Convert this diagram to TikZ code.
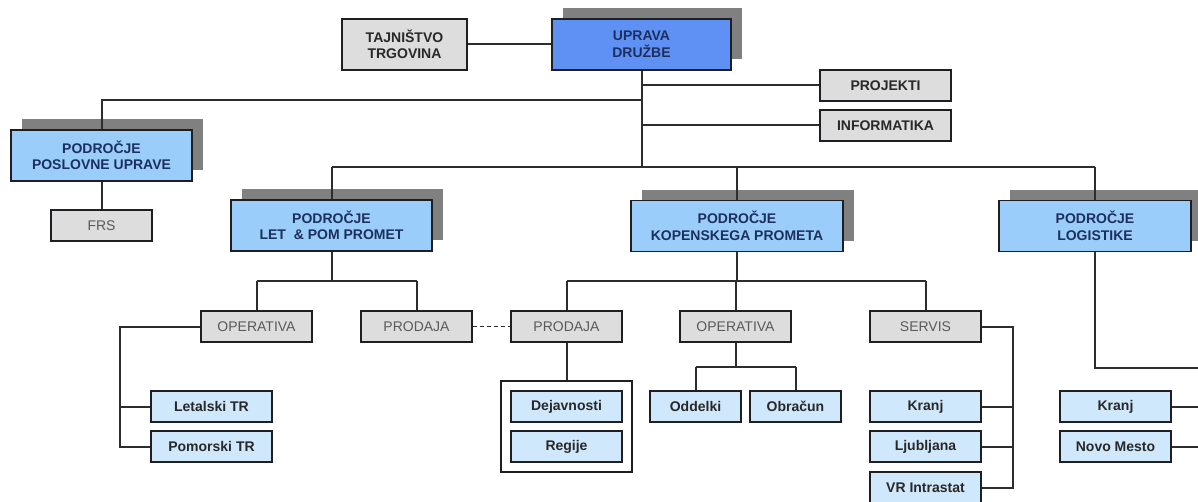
\documentclass[tikz,border=0pt]{standalone}
\usepackage{fontspec}
\setmainfont{Liberation Sans}
\usetikzlibrary{shadows}

\definecolor{lineclr}{RGB}{45,45,45}
\definecolor{edgeclr}{RGB}{30,30,35}
\definecolor{topblue}{RGB}{95,145,245}
\definecolor{areablue}{RGB}{155,205,250}
\definecolor{unitblue}{RGB}{208,232,252}
\definecolor{boxgray}{RGB}{221,221,221}
\definecolor{shadowgray}{RGB}{128,128,128}
\definecolor{navy}{RGB}{28,48,95}
\definecolor{textgray}{RGB}{90,90,90}
\definecolor{textdark}{RGB}{40,40,40}

\tikzset{
  box/.style={draw=edgeclr, line width=1.8pt, inner sep=0pt, align=center,
    minimum height=31pt, font=\fontsize{14}{16.5}\selectfont},
  shadowed/.style={drop shadow={shadow xshift=10.5pt, shadow yshift=10.5pt,
    fill=shadowgray, opacity=1}},
  topbox/.style={box, shadowed, fill=topblue, text=navy, font=\fontsize{14}{16.5}\selectfont\bfseries,
    minimum height=51pt},
  areabox/.style={box, shadowed, fill=areablue, text=navy, font=\fontsize{14}{16.5}\selectfont\bfseries,
    minimum height=51pt},
  staffbox/.style={box, fill=boxgray, text=textdark, font=\fontsize{14}{16.5}\selectfont\bfseries},
  deptbox/.style={box, fill=boxgray, text=textgray, minimum width=111pt},
  unitbox/.style={box, fill=unitblue, text=textdark, font=\fontsize{14}{16.5}\selectfont\bfseries},
  groupbox/.style={draw=edgeclr, line width=1.8pt, fill=white, inner sep=0pt},
  conn/.style={draw=lineclr, line width=2pt},
  link/.style={draw=lineclr, line width=1.6pt, dash pattern=on 4pt off 3pt},
}

\begin{document}
\begin{tikzpicture}[x=1pt, y=-1pt]
  \fill[white] (0,0) rectangle (1198,502);
  \useasboundingbox (0,0) rectangle (1198,502);
  \clip (0,0) rectangle (1198,502);

  % management and staff units
  \node[staffbox, minimum width=125pt, minimum height=51pt] (taj) at (404.5,44.5) {TAJNIŠTVO\\TRGOVINA};
  \node[topbox, minimum width=179pt] (uprava) at (641.5,44.5) {UPRAVA\\DRUŽBE};
  \node[staffbox, minimum width=131pt] (projekti) at (885.5,85.5) {PROJEKTI};
  \node[staffbox, minimum width=131pt] (informatika) at (885.5,125.5) {INFORMATIKA};

  % business areas
  \node[areabox, minimum width=181pt] (poslovne) at (101.5,155.5) {PODROČJE\\POSLOVNE UPRAVE};
  \node[box, fill=boxgray, text=textgray, minimum width=101pt] (frs) at (101.5,225.5) {FRS};
  \node[areabox, minimum width=201pt] (let) at (331.5,225.5) {PODROČJE\\LET \ \& POM PROMET};
  \node[areabox, minimum width=212pt] (kop) at (737,226) {PODROČJE\\KOPENSKEGA PROMETA};
  \node[areabox, minimum width=192pt] (log) at (1095,226) {PODROČJE\\LOGISTIKE};

  % departments
  \node[deptbox] (opL) at (256.5,326.5) {OPERATIVA};
  \node[deptbox] (prodL) at (416.5,326.5) {PRODAJA};
  \node[deptbox] (prodM) at (566.5,326.5) {PRODAJA};
  \node[deptbox] (opM) at (735.5,326.5) {OPERATIVA};
  \node[deptbox] (servis) at (925.5,326.5) {SERVIS};

  % units
  \node[unitbox, minimum width=121pt] (letalski) at (211.5,406.5) {Letalski TR};
  \node[unitbox, minimum width=121pt] (pomorski) at (211.5,446.5) {Pomorski TR};

  \node[groupbox, minimum width=131pt, minimum height=91pt] (grp) at (566.5,426.5) {};
  \node[unitbox, minimum width=111pt] (dej) at (566.5,406.5) {Dejavnosti};
  \node[unitbox, minimum width=111pt] (reg) at (566.5,446.5) {Regije};

  \node[unitbox, minimum width=91pt] (oddelki) at (695.5,406.5) {Oddelki};
  \node[unitbox, minimum width=91pt] (obracun) at (795.5,406.5) {Obračun};

  \node[unitbox, minimum width=111pt] (kranjA) at (925.5,406.5) {Kranj};
  \node[unitbox, minimum width=111pt] (ljubljana) at (925.5,446.5) {Ljubljana};
  \node[unitbox, minimum width=111pt] (vr) at (925.5,487.5) {VR Intrastat};

  \node[unitbox, minimum width=111pt] (kranjB) at (1115.5,406.5) {Kranj};
  \node[unitbox, minimum width=111pt] (novo) at (1115.5,446.5) {Novo Mesto};

  % junction rails
  \coordinate (rail) at (0,167);
  \coordinate (staffrail) at (0,100);
  \coordinate (deprail) at (0,281);
  \coordinate (oprail) at (0,367);
  \coordinate (leftrail) at (120,0);
  \coordinate (servrail) at (1013,0);
  \coordinate (logend) at (1198,368);

  % top level
  \draw[conn] (taj.east) -- (uprava.west);
  \draw[conn] (uprava.south) -- (uprava.south |- rail);
  \draw[conn] (uprava.south |- projekti.west) -- (projekti.west);
  \draw[conn] (uprava.south |- informatika.west) -- (informatika.west);
  \draw[conn] (uprava.south |- staffrail) -- (poslovne.north |- staffrail) -- (poslovne.north);
  \draw[conn] (let.north |- rail) -- (log.north |- rail);
  \draw[conn] (let.north |- rail) -- (let.north);
  \draw[conn] (kop.north |- rail) -- (kop.north);
  \draw[conn] (log.north |- rail) -- (log.north);
  \draw[conn] (poslovne.south) -- (frs.north);

  % air & sea
  \draw[conn] (let.south) -- (let.south |- deprail);
  \draw[conn] (opL.north |- deprail) -- (prodL.north |- deprail);
  \draw[conn] (opL.north |- deprail) -- (opL.north);
  \draw[conn] (prodL.north |- deprail) -- (prodL.north);
  \draw[link] (prodL.east) -- (prodM.west);
  \draw[conn] (opL.west) -- (opL.west -| leftrail) -- (pomorski.west -| leftrail) -- (pomorski.west);
  \draw[conn] (letalski.west -| leftrail) -- (letalski.west);

  % land transport
  \draw[conn] (kop.south) -- (kop.south |- deprail);
  \draw[conn] (prodM.north |- deprail) -- (servis.north |- deprail);
  \draw[conn] (prodM.north |- deprail) -- (prodM.north);
  \draw[conn] (opM.north |- deprail) -- (opM.north);
  \draw[conn] (servis.north |- deprail) -- (servis.north);
  \draw[conn] (prodM.south) -- (grp.north);
  \draw[conn] (opM.south) -- (opM.south |- oprail);
  \draw[conn] (oddelki.north |- oprail) -- (obracun.north |- oprail);
  \draw[conn] (oddelki.north |- oprail) -- (oddelki.north);
  \draw[conn] (obracun.north |- oprail) -- (obracun.north);
  \draw[conn] (servis.east) -- (servis.east -| servrail) -- (vr.east -| servrail) -- (vr.east);
  \draw[conn] (kranjA.east) -- (kranjA.east -| servrail);
  \draw[conn] (ljubljana.east) -- (ljubljana.east -| servrail);

  % logistics
  \draw[conn] (log.south) -- (log.south |- logend) -- (logend);
  \draw[conn] (kranjB.east) -- (kranjB.east -| logend);
  \draw[conn] (novo.east) -- (novo.east -| logend);
\end{tikzpicture}
\end{document}
